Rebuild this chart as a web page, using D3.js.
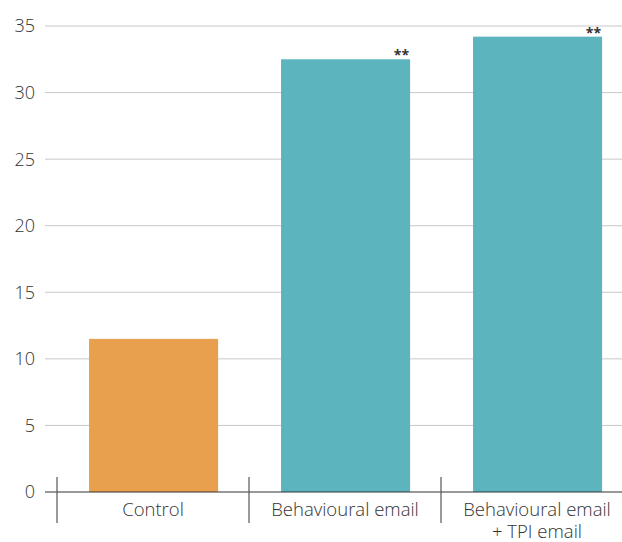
<!DOCTYPE html>
<html>
<head>
<meta charset="utf-8">
<script src="https://cdn.jsdelivr.net/npm/d3@7"></script>
<style>
  body { margin: 0; background: white; }
  svg { display: block; font-family: "Open Sans", sans-serif; }
</style>
</head>
<body>
<div id="chart"></div>
<script>
// data
var categories = ["Control", "Behavioural email", "Behavioural email\n+ TPI email"];
var values = [11.5, 32.5, 34.2];
var signif = ["", "**", "**"];
var barColors = ["#E89F4E", "#5BB4BE", "#5BB4BE"];
var yTicks = [0, 5, 10, 15, 20, 25, 30, 35];

var width = 622, height = 542;

var svg = d3.select("#chart").append("svg")
    .attr("width", width)
    .attr("height", height);

var y = d3.scaleLinear().domain([0, 35]).range([492, 26]);
var x = d3.scaleBand().domain(categories).range([57, 633]).paddingInner(0).paddingOuter(0);

// gridlines
svg.append("g").selectAll("line")
    .data(yTicks.filter(d => d > 0))
    .enter().append("line")
    .attr("x1", 45).attr("x2", width)
    .attr("y1", d => y(d)).attr("y2", d => y(d))
    .attr("stroke", "#c8c8c8")
    .attr("stroke-width", 1);

// tick labels
svg.append("g").selectAll("text")
    .data(yTicks)
    .enter().append("text")
    .attr("x", 35)
    .attr("y", d => y(d))
    .attr("dy", "0.36em")
    .attr("text-anchor", "end")
    .style("font-size", "18px")
    .style("font-weight", 300)
    .style("fill", "#333")
    .text(d => d);

// bars
var bw = x.bandwidth();
svg.append("g").selectAll("rect")
    .data(values)
    .enter().append("rect")
    .attr("x", (d, i) => x(categories[i]) + bw * 0.167)
    .attr("width", bw * 0.672)
    .attr("y", d => y(d))
    .attr("height", d => y(0) - y(d))
    .attr("fill", (d, i) => barColors[i]);

// significance stars
svg.append("g").selectAll("text")
    .data(values)
    .enter().append("text")
    .attr("x", (d, i) => x(categories[i]) + bw * 0.167 + bw * 0.672 - 1)
    .attr("y", d => y(d) + 1)
    .attr("text-anchor", "end")
    .style("font-size", "14px")
    .style("font-weight", 700)
    .style("fill", "#333")
    .text((d, i) => signif[i]);

// zero axis
svg.append("line")
    .attr("x1", 45).attr("x2", width)
    .attr("y1", y(0)).attr("y2", y(0))
    .attr("stroke", "#333")
    .attr("stroke-width", 1.2);

// category separators
svg.append("g").selectAll("line")
    .data(categories)
    .enter().append("line")
    .attr("x1", d => x(d)).attr("x2", d => x(d))
    .attr("y1", 477).attr("y2", 523)
    .attr("stroke", "#555")
    .attr("stroke-width", 1.2);

// category labels
svg.append("g").selectAll("text")
    .data(categories)
    .enter().append("text")
    .attr("x", d => x(d) + bw / 2)
    .attr("y", 516)
    .attr("text-anchor", "middle")
    .style("font-size", "18.5px")
    .style("font-weight", 300)
    .style("fill", "#333")
    .each(function(d) {
        var lines = d.split("\n");
        d3.select(this).selectAll("tspan")
            .data(lines)
            .enter().append("tspan")
            .attr("x", x(d) + bw / 2)
            .attr("dy", (l, i) => i === 0 ? 0 : 22)
            .text(l => l);
    });
</script>
</body>
</html>
